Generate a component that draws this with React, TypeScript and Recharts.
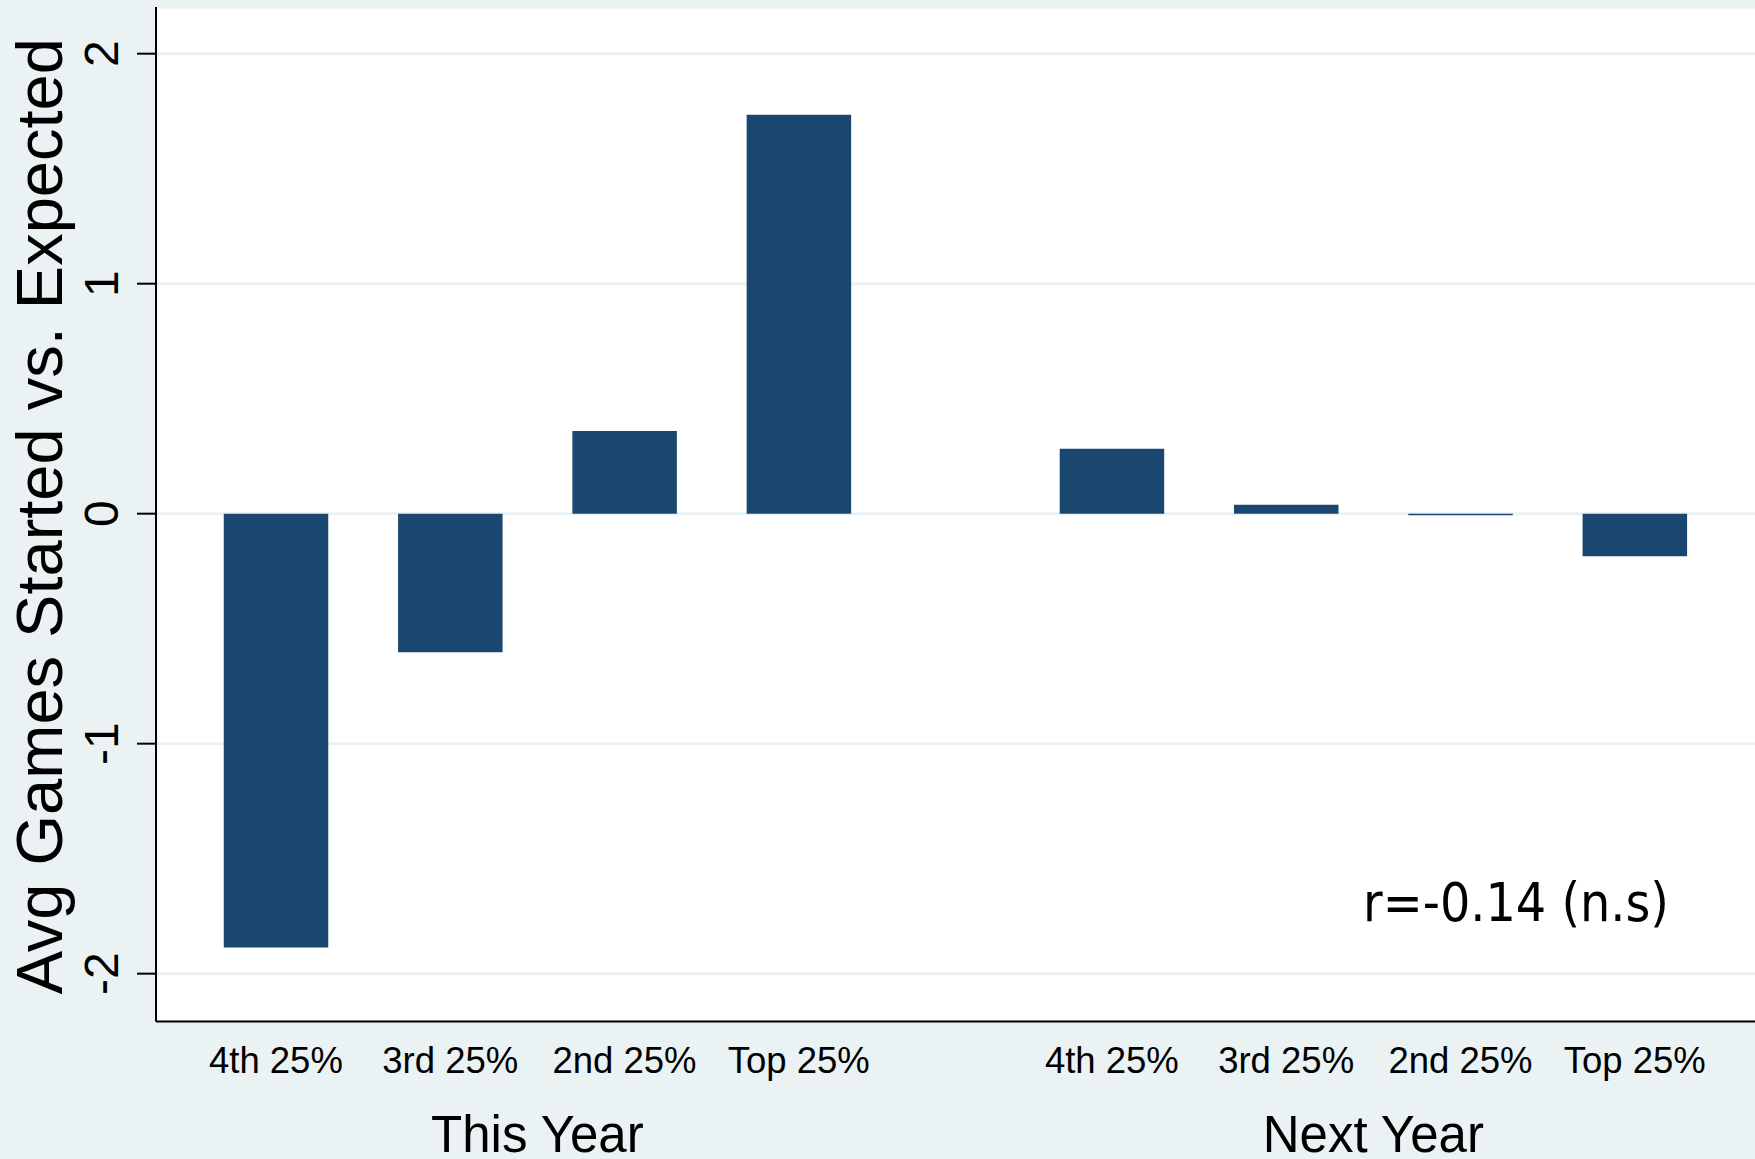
import React from 'react';
import { BarChart, Bar, XAxis, YAxis, CartesianGrid } from 'recharts';

const groups = ['This Year', 'Next Year'];
const quartiles = ['4th 25%', '3rd 25%', '2nd 25%', 'Top 25%'];
const thisYear = [-1.886, -0.603, 0.36, 1.735];
const nextYear = [0.282, 0.039, -0.007, -0.185];
const yTicks = [-2, -1, 0, 1, 2];
const annotation = 'r=-0.14 (n.s)';

// layout constants
const W = 1755;
const H = 1159;
const GROUP_STEP = 4.796; // slot distance between the first bars of the two groups
const BG = '#eaf2f3';
const BAR = '#1a476f';
const FONT = "'Liberation Sans', Arial, sans-serif";

const series = [thisYear, nextYear];
const rows = series.flatMap((vals, g) =>
  vals.map((v, i) => ({ pos: g * GROUP_STEP + i, label: quartiles[i], group: groups[g], value: v }))
);
const groupCenters = groups.map((_, g) => g * GROUP_STEP + (quartiles.length - 1) / 2);
const xDomain = [-0.688, GROUP_STEP + quartiles.length - 1 + 0.69];

const near = (a: number, b: number) => Math.abs(a - b) < 1e-6;

const QuartileTick = (props: any) => {
  const { x, y, payload } = props;
  const row = rows.find((r) => near(r.pos, payload.value));
  return (
    <text x={x} y={y + 51.8} textAnchor="middle" fontSize={36.5} fontFamily={FONT} fill="#000">
      {row ? row.label : ''}
    </text>
  );
};

const GroupTick = (props: any) => {
  const { x, y, payload } = props;
  const gi = groupCenters.findIndex((c) => near(c, payload.value));
  return (
    <text x={x} y={y + 70.5} textAnchor="middle" fontSize={51} fontFamily={FONT} fill="#000">
      {gi >= 0 ? groups[gi] : ''}
    </text>
  );
};

const YTick = (props: any) => {
  const { x, y, payload } = props;
  return (
    <text
      x={x}
      y={y}
      transform={`rotate(-90 ${x} ${y})`}
      textAnchor="middle"
      fontSize={48}
      fontFamily={FONT}
      fill="#000"
    >
      {payload.value}
    </text>
  );
};

const YLabel = (props: any) => {
  const vb = props.viewBox || { x: 0, y: 7, width: 156, height: 1014.5 };
  const cx = 62;
  const cy = vb.y + vb.height / 2 + 2;
  return (
    <text
      x={cx}
      y={cy}
      transform={`rotate(-90 ${cx} ${cy})`}
      textAnchor="middle"
      fontSize={65}
      fontFamily={FONT}
      fill="#000"
    >
      Avg Games Started vs. Expected
    </text>
  );
};

export default function App() {
  return (
    <div style={{ position: 'absolute', left: 0, top: 0, width: W, height: H, background: BG }}>
      <BarChart
        width={W}
        height={H}
        data={rows}
        margin={{ top: 7, right: 0, bottom: 0, left: 0 }}
        style={{ background: BG }}
      >
        <CartesianGrid
          vertical={false}
          horizontal={true}
          fill="#ffffff"
          stroke={BG}
          strokeWidth={3}
          yAxisId="y"
          xAxisId="x1"
        />
        <XAxis
          xAxisId="x1"
          dataKey="pos"
          type="number"
          domain={xDomain}
          allowDataOverflow
          ticks={rows.map((r) => r.pos)}
          interval={0}
          height={60}
          tickSize={0}
          tickMargin={0}
          tickLine={false}
          axisLine={{ stroke: '#000', strokeWidth: 2 }}
          tick={<QuartileTick />}
        />
        <XAxis
          xAxisId="x2"
          dataKey="pos"
          type="number"
          domain={xDomain}
          allowDataOverflow
          ticks={groupCenters}
          interval={0}
          height={77.5}
          tickSize={0}
          tickMargin={0}
          tickLine={false}
          axisLine={false}
          tick={<GroupTick />}
        />
        <YAxis
          yAxisId="y"
          type="number"
          domain={[-2.208, 2.203]}
          allowDataOverflow
          ticks={yTicks}
          interval={0}
          width={156}
          tickSize={19}
          tickMargin={19}
          axisLine={{ stroke: '#000', strokeWidth: 2 }}
          tickLine={{ stroke: '#000', strokeWidth: 2 }}
          tick={<YTick />}
          label={{ content: <YLabel /> }}
        />
        <Bar
          dataKey="value"
          xAxisId="x1"
          yAxisId="y"
          fill={BAR}
          barSize={104.5}
          isAnimationActive={false}
        />
        <text
          x={1363}
          y={921}
          fontSize={54}
          fontFamily="'DejaVu Sans Condensed', 'DejaVu Sans', sans-serif"
          textLength={306}
          lengthAdjust="spacingAndGlyphs"
          fill="#000"
        >
          {annotation}
        </text>
      </BarChart>
    </div>
  );
}
